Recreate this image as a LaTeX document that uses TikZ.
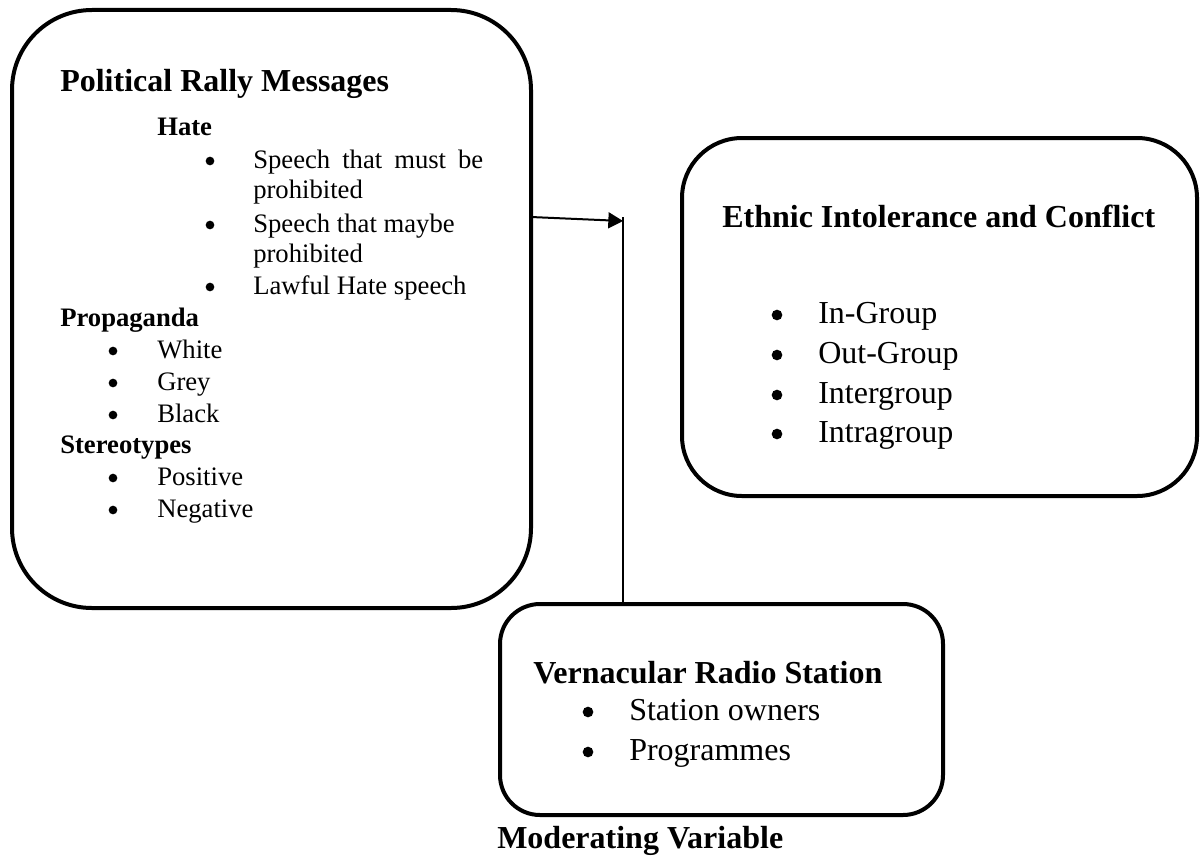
\documentclass[tikz,border=0pt]{standalone}
\usepackage{fontspec}
\setmainfont{Liberation Serif}
\usetikzlibrary{arrows.meta}
\begin{document}
\begin{tikzpicture}[x=0.75pt,y=-0.75pt,
  box/.style={draw, line width=3pt, inner sep=0pt, outer sep=0pt},
  big/.style={font=\fontsize{24}{28}\selectfont, inner sep=0pt, anchor=base west},
  bigb/.style={big, font=\fontsize{24}{28}\selectfont\bfseries},
  sm/.style={font=\fontsize{20}{24}\selectfont, inner sep=0pt, anchor=base west},
  smb/.style={sm, font=\fontsize{20}{24}\selectfont\bfseries},
  sbul/.style={circle, fill, inner sep=0pt, minimum size=6.5pt, yshift=7*0.75pt},
  bbul/.style={circle, fill, inner sep=0pt, minimum size=8pt, yshift=8*0.75pt},
  conn/.style={line width=1.5pt}]
\useasboundingbox (0,0) rectangle (1201,856);

% boxes
\node[box, rounded corners=60pt, minimum width=389.25pt, minimum height=448.5pt] (pol) at (271.5,309) {};
\node[box, rounded corners=45pt, minimum width=386.25pt, minimum height=268.5pt] (eth) at (939.5,317) {};
\node[box, rounded corners=30pt, minimum width=332.25pt, minimum height=158.25pt] (mod) at (721.5,709.5) {};

% left box text
\node[bigb] (polT) at (60,91) {Political Rally Messages};
\node[smb] (hate) at (157,135) {Hate};
\node[sbul] (hb1) at (210,168) {};
\node[sm] (h1a) at (253,168) {\makebox[172.5pt][s]{Speech that must be}};
\node[sm] (h1b) at (253,198) {prohibited};
\node[sbul] (hb2) at (210,232) {};
\node[sm] (h2a) at (253,232) {Speech that maybe};
\node[sm] (h2b) at (253,262) {prohibited};
\node[sbul] (hb3) at (210,294) {};
\node[sm] (h3) at (253,294) {Lawful Hate speech};
\node[smb] (prop) at (60,326) {Propaganda};
\node[sbul] (pb1) at (113,358) {};
\node[sm] (p1) at (157,358) {White};
\node[sbul] (pb2) at (113,390) {};
\node[sm] (p2) at (157,390) {Grey};
\node[sbul] (pb3) at (113,422) {};
\node[sm] (p3) at (157,422) {Black};
\node[smb] (ster) at (60,453) {Stereotypes};
\node[sbul] (sb1) at (113,485) {};
\node[sm] (s1) at (157,485) {Positive};
\node[sbul] (sb2) at (113,517) {};
\node[sm] (s2) at (157,517) {Negative};

% right box text
\node[bigb] (ethT) at (722,227) {Ethnic Intolerance and Conflict};
\node[bbul] (eb1) at (777,323) {};
\node[big] (e1) at (818,323) {In-Group};
\node[bbul] (eb2) at (777,363) {};
\node[big] (e2) at (818,363) {Out-Group};
\node[bbul] (eb3) at (777,403) {};
\node[big] (e3) at (818,403) {Intergroup};
\node[bbul] (eb4) at (777,442) {};
\node[big] (e4) at (818,442) {Intragroup};

% bottom box text
\node[bigb] (modT) at (533,683) {Vernacular Radio Station};
\node[bbul] (mb1) at (588,720) {};
\node[big] (m1) at (629,720) {Station owners};
\node[bbul] (mb2) at (588,760) {};
\node[big] (m2) at (629,760) {Programmes};
\node[bigb] (modL) at (497,848) {Moderating Variable};

% connectors
\coordinate (j) at (623,217);
\coordinate (tip) at (623,221);
\draw[conn, -{Triangle[length=11pt,width=12pt]}] (pol.east |- j) -- (tip);
\draw[conn] (j) -- (j |- mod.north);
\end{tikzpicture}
\end{document}
